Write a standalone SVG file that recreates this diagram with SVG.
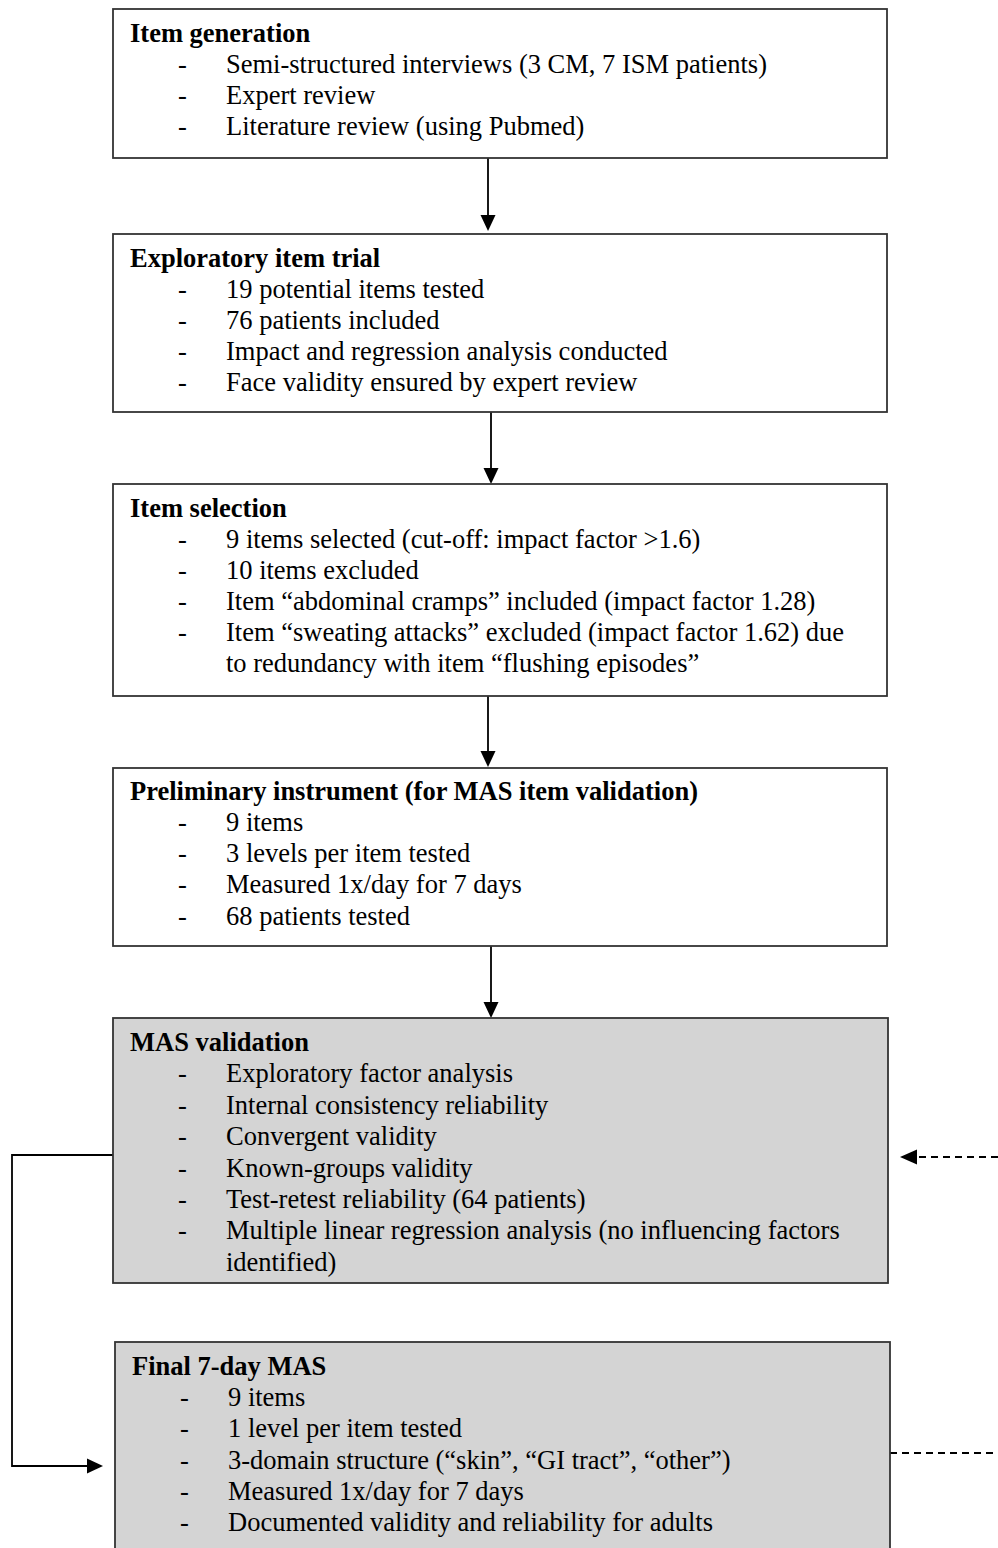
<svg xmlns="http://www.w3.org/2000/svg" width="998" height="1548" viewBox="0 0 998 1548">
<style>
.box{fill:#ffffff;stroke:#333333;stroke-width:1.8}
.grey{fill:#d4d4d4;stroke:#333333;stroke-width:1.8}
text{font-family:"Liberation Serif","Times New Roman",serif;font-size:26.5px;fill:#000000}
.t{font-weight:bold}
.c{fill:none;stroke:#000000;stroke-width:1.8}
.d{fill:none;stroke:#000000;stroke-width:1.8;stroke-dasharray:7 5}
.h{fill:#000000;stroke:none}
</style>
<rect width="998" height="1548" fill="#ffffff"/>
<g id="connectors">
<line class="c" x1="488" y1="158" x2="488" y2="216"/>
<polygon class="h" points="480.5,215 495.5,215 488,231"/>
<line class="c" x1="491" y1="412" x2="491" y2="469"/>
<polygon class="h" points="483.5,468 498.5,468 491,484"/>
<line class="c" x1="488" y1="696" x2="488" y2="752"/>
<polygon class="h" points="480.5,751 495.5,751 488,767"/>
<line class="c" x1="491" y1="946" x2="491" y2="1003"/>
<polygon class="h" points="483.5,1002 498.5,1002 491,1018"/>
<polyline class="c" points="113,1155 12,1155 12,1466 88,1466"/>
<polygon class="h" points="87,1458.5 87,1473.5 103,1466"/>
<line class="d" x1="998" y1="1157" x2="916" y2="1157"/>
<polygon class="h" points="917,1149.5 917,1164.5 900,1157"/>
<line class="d" x1="890" y1="1453" x2="998" y2="1453"/>
</g>
<g id="n1">
<rect class="box" x="113" y="9" width="774" height="149"/>
<text class="t" x="130" y="42">Item generation</text>
<text x="178" y="73">-</text><text x="226" y="73">Semi-structured interviews (3 CM, 7 ISM patients)</text>
<text x="178" y="104">-</text><text x="226" y="104">Expert review</text>
<text x="178" y="135">-</text><text x="226" y="135">Literature review (using Pubmed)</text>
</g>
<g id="n2">
<rect class="box" x="113" y="234" width="774" height="178"/>
<text class="t" x="130" y="267">Exploratory item trial</text>
<text x="178" y="298">-</text><text x="226" y="298">19 potential items tested</text>
<text x="178" y="329">-</text><text x="226" y="329">76 patients included</text>
<text x="178" y="360">-</text><text x="226" y="360">Impact and regression analysis conducted</text>
<text x="178" y="391">-</text><text x="226" y="391">Face validity ensured by expert review</text>
</g>
<g id="n3">
<rect class="box" x="113" y="484" width="774" height="212"/>
<text class="t" x="130" y="517">Item selection</text>
<text x="178" y="548">-</text><text x="226" y="548">9 items selected (cut-off: impact factor &gt;1.6)</text>
<text x="178" y="579">-</text><text x="226" y="579">10 items excluded</text>
<text x="178" y="610">-</text><text x="226" y="610">Item “abdominal cramps” included (impact factor 1.28)</text>
<text x="178" y="641">-</text><text x="226" y="641">Item “sweating attacks” excluded (impact factor 1.62) due</text>
<text x="226" y="672">to redundancy with item “flushing episodes”</text>
</g>
<g id="n4">
<rect class="box" x="113" y="768" width="774" height="178"/>
<text class="t" x="130" y="800">Preliminary instrument (for MAS item validation)</text>
<text x="178" y="831">-</text><text x="226" y="831">9 items</text>
<text x="178" y="862">-</text><text x="226" y="862">3 levels per item tested</text>
<text x="178" y="893">-</text><text x="226" y="893">Measured 1x/day for 7 days</text>
<text x="178" y="925">-</text><text x="226" y="925">68 patients tested</text>
</g>
<g id="n5">
<rect class="grey" x="113" y="1018" width="775" height="265"/>
<text class="t" x="130" y="1051">MAS validation</text>
<text x="178" y="1082">-</text><text x="226" y="1082">Exploratory factor analysis</text>
<text x="178" y="1114">-</text><text x="226" y="1114">Internal consistency reliability</text>
<text x="178" y="1145">-</text><text x="226" y="1145">Convergent validity</text>
<text x="178" y="1177">-</text><text x="226" y="1177">Known-groups validity</text>
<text x="178" y="1208">-</text><text x="226" y="1208">Test-retest reliability (64 patients)</text>
<text x="178" y="1239">-</text><text x="226" y="1239">Multiple linear regression analysis (no influencing factors</text>
<text x="226" y="1271">identified)</text>
</g>
<g id="n6">
<rect class="grey" x="115" y="1342" width="775" height="220"/>
<text class="t" x="132" y="1375">Final 7-day MAS</text>
<text x="180" y="1406">-</text><text x="228" y="1406">9 items</text>
<text x="180" y="1437">-</text><text x="228" y="1437">1 level per item tested</text>
<text x="180" y="1469">-</text><text x="228" y="1469">3-domain structure (“skin”, “GI tract”, “other”)</text>
<text x="180" y="1500">-</text><text x="228" y="1500">Measured 1x/day for 7 days</text>
<text x="180" y="1531">-</text><text x="228" y="1531">Documented validity and reliability for adults</text>
</g>
</svg>
